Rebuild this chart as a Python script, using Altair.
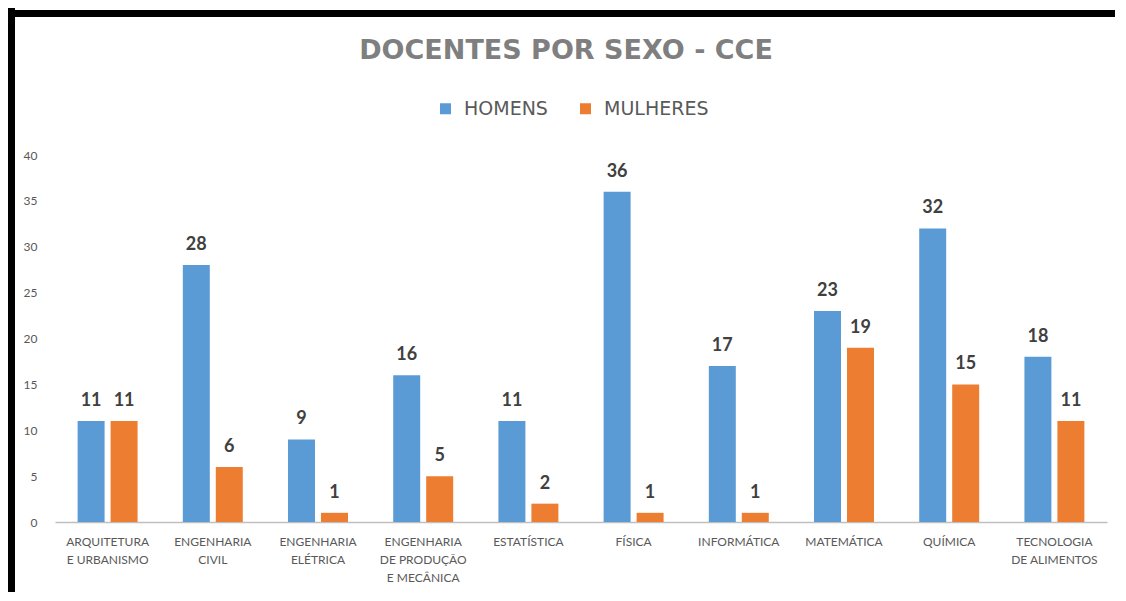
import altair as alt
import pandas as pd

# ---- data ----
categories = [
    "ARQUITETURA|E URBANISMO",
    "ENGENHARIA|CIVIL",
    "ENGENHARIA|ELÉTRICA",
    "ENGENHARIA|DE PRODUÇÃO|E MECÂNICA",
    "ESTATÍSTICA",
    "FÍSICA",
    "INFORMÁTICA",
    "MATEMÁTICA",
    "QUÍMICA",
    "TECNOLOGIA|DE ALIMENTOS",
]
series = ["HOMENS", "MULHERES"]
homens = [11, 28, 9, 16, 11, 36, 17, 23, 32, 18]
mulheres = [11, 6, 1, 5, 2, 1, 1, 19, 15, 11]
colors = ["#5B9BD5", "#ED7D31"]
y_ticks = [0, 5, 10, 15, 20, 25, 30, 35, 40]
title_text = "DOCENTES POR SEXO - CCE"

rows = []
for c, h, m in zip(categories, homens, mulheres):
    rows.append({"curso": c, "sexo": series[0], "n": h})
    rows.append({"curso": c, "sexo": series[1], "n": m})
df = pd.DataFrame(rows)

x = alt.X(
    "curso:N",
    sort=categories,
    scale=alt.Scale(paddingInner=0.43, paddingOuter=0.215),
    axis=alt.Axis(
        title=None, labelAngle=0, labelExpr="split(datum.value, '|')",
        labelFont="Lato", labelFontSize=12, labelColor="#595959",
        labelPadding=14, labelBaseline="top", labelLineHeight=18,
        ticks=False, domainColor="#bfbfbf", domainWidth=1.5, labelLimit=0,
    ),
)
xoff = alt.XOffset("sexo:N", sort=series, scale=alt.Scale(paddingInner=0.182))
y = alt.Y(
    "n:Q",
    scale=alt.Scale(domain=[0, 40]),
    axis=alt.Axis(
        title=None, values=y_ticks, grid=False, domain=False, ticks=False,
        labelPadding=18, labelFont="Lato", labelFontSize=12, labelColor="#595959",
    ),
)
color = alt.Color(
    "sexo:N",
    sort=series,
    scale=alt.Scale(domain=series, range=colors),
    legend=alt.Legend(
        title=None, orient="none", legendX=381, legendY=-56,
        direction="horizontal", symbolType="square", symbolSize=121,
        symbolStrokeWidth=0, labelFont="DejaVu Sans", labelFontSize=19,
        labelColor="#595959", labelOffset=9, columnPadding=28,
    ),
)

bars = alt.Chart(df).mark_bar().encode(x=x, xOffset=xoff, y=y, color=color)
labels = alt.Chart(df).mark_text(
    font="Lato", fontWeight="bold", fontSize=18, color="#404040",
    baseline="alphabetic", dy=-15,
).encode(x=x, xOffset=xoff, y=y, text="n:Q")

one = pd.DataFrame({"k": [0]})
frame_left = alt.Chart(one).mark_rule(color="black", strokeWidth=7).encode(
    x=alt.value(-43.5), y=alt.value(-148), y2=alt.value(440)
)
frame_top = alt.Chart(one).mark_rule(color="black", strokeWidth=7).encode(
    x=alt.value(-47), x2=alt.value(1060), y=alt.value(-141.5)
)

chart = alt.layer(frame_left, frame_top, bars, labels).properties(
    width=1052,
    height=367,
    autosize=alt.AutoSizeParams(type="none"),
    padding={"left": 47, "top": 147, "right": 8, "bottom": 70},
    title=alt.TitleParams(
        title_text, font="DejaVu Sans", fontSize=27, fontWeight="bold",
        color="#7f7f7f", anchor="middle", dx=-15, dy=65,
    ),
).configure_view(stroke=None)

chart.save("out.html", embed_options={"renderer": "svg", "actions": False})
